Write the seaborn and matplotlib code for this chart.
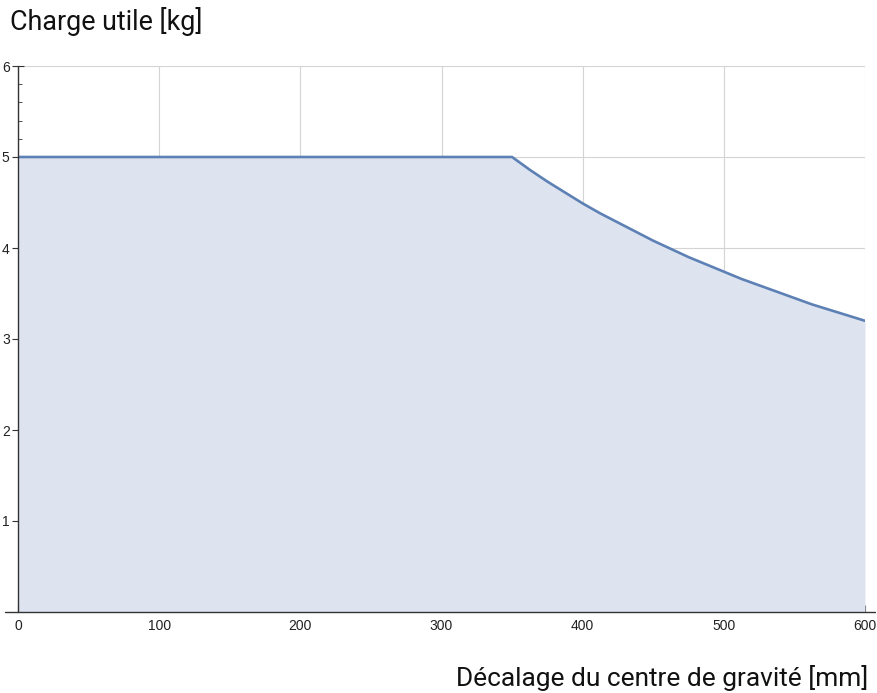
import matplotlib
matplotlib.use("Agg")
import matplotlib.pyplot as plt
import seaborn as sns
import pandas as pd
from matplotlib.ticker import MultipleLocator

offset_mm = [0, 350, 362.5, 375, 387.5, 400, 412.5, 425, 437.5, 450, 462.5, 475,
             487.5, 500, 512.5, 525, 537.5, 550, 562.5, 575, 587.5, 600]
payload_kg = [5.0, 5.0, 4.86, 4.73, 4.61, 4.49, 4.38, 4.28, 4.18, 4.08, 3.99, 3.90,
              3.82, 3.74, 3.66, 3.59, 3.52, 3.45, 3.38, 3.32, 3.26, 3.20]
x_ticks = [0, 100, 200, 300, 400, 500, 600]
y_ticks = [1, 2, 3, 4, 5, 6]

sns.set_style("white")
plt.rcParams['font.family'] = ['Roboto', 'DejaVu Sans']

df = pd.DataFrame({"x": offset_mm, "y": payload_kg})

fig = plt.figure(figsize=(8.78, 6.93), dpi=100)
ax = fig.add_axes([18/878, 81/693, (865-18)/878, (612-66)/693])

line_color = "#5E81B5"
ax.fill_between(df["x"], 0, df["y"], color="#dde3ef", lw=0, zorder=1)
sns.lineplot(data=df, x="x", y="y", ax=ax, color=line_color, lw=1.9, zorder=3)

ax.set_xlim(0, 600)
ax.set_ylim(0, 6)
ax.set_xticks(x_ticks)
ax.set_yticks(y_ticks)
ax.xaxis.set_minor_locator(MultipleLocator(20))
ax.yaxis.set_minor_locator(MultipleLocator(0.2))
ax.grid(True, which="major", color="#d4d4d4", lw=0.8, zorder=0)
ax.set_axisbelow(True)
ax.set_xlabel("")
ax.set_ylabel("")

for s in ["top", "right", "left", "bottom"]:
    ax.spines[s].set_visible(False)

# axis lines
ax.plot([-0.015, 1.012], [0, 0], transform=ax.transAxes, color="#333333", lw=1.0, clip_on=False, zorder=5)
ax.plot([0, 0], [0, 1], transform=ax.transAxes, color="#333333", lw=1.0, clip_on=False, zorder=5)

ax.tick_params(axis="both", which="major", direction="in", length=5, width=0.8,
               color="#333333", labelsize=10, labelcolor="#222222", pad=5)
ax.tick_params(axis="both", which="minor", direction="in", length=3, width=0.6, color="#333333")
ax.tick_params(axis="x", which="both", bottom=True, top=False)
ax.tick_params(axis="y", which="major", direction="inout", length=8, pad=2)
ax.tick_params(axis="y", which="both", left=True, right=False)
for lab in ax.get_xticklabels() + ax.get_yticklabels():
    lab.set_family(["Liberation Sans", "DejaVu Sans"])

fig.text(10/878, 1 - 22/693, "Charge utile [kg]", fontsize=19.4, ha="left", va="center", color="#111111")
fig.text(868/878, 1 - 678/693, "Décalage du centre de gravité [mm]", fontsize=18.9, ha="right", va="center", color="#111111")

fig.savefig("out.png", dpi=100)
